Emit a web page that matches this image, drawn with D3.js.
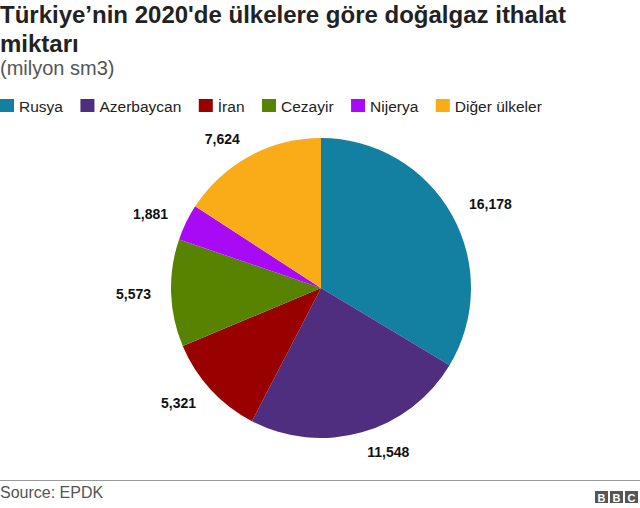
<!DOCTYPE html>
<html>
<head>
<meta charset="utf-8">
<script src="https://cdn.jsdelivr.net/npm/d3@7"></script>
<style>
  html, body { margin: 0; padding: 0; background: #fff; }
  svg { display: block; font-family: "Liberation Sans", Arial, Helvetica, sans-serif; }
</style>
</head>
<body>
<svg id="chart" width="640" height="508"></svg>
<script>
const categories = ["Rusya", "Azerbaycan", "İran", "Cezayir", "Nijerya", "Diğer ülkeler"];
const values = [16178, 11548, 5321, 5573, 1881, 7624];
const colors = ["#1380A1", "#4F2D7F", "#990000", "#588300", "#A90AF5", "#FAAB18"];
const titleLines = ["Türkiye’nin 2020'de ülkelere göre doğalgaz ithalat", "miktarı"];
const subtitle = "(milyon sm3)";
const source = "Source: EPDK";

const svg = d3.select("#chart");
const W = 640;

// Title
svg.selectAll("text.title").data(titleLines).join("text")
  .attr("class", "title")
  .attr("x", 0)
  .attr("y", (d, i) => 23 + i * 28.5)
  .attr("font-size", 24)
  .attr("font-weight", "bold")
  .attr("fill", "#222")
  .text(d => d);

svg.append("text")
  .attr("x", 0).attr("y", 75)
  .attr("font-size", 20)
  .attr("fill", "#555")
  .text(subtitle);

// Legend
const legend = svg.append("g");
let lx = 0;
categories.forEach((c, i) => {
  const g = legend.append("g").attr("transform", `translate(${lx},0)`);
  g.append("rect").attr("x", 0).attr("y", 99).attr("width", 14).attr("height", 13).attr("fill", colors[i]);
  const t = g.append("text").attr("x", 19).attr("y", 111.5)
    .attr("font-size", 15.5).attr("fill", "#222").text(c);
  const w = t.node().getComputedTextLength();
  lx += 19 + w + 17.5;
});

// Pie
const cx = 321, cy = 288, r = 150;
const pie = d3.pie().sort(null).value(d => d.value);
const data = categories.map((c, i) => ({ name: c, value: values[i], color: colors[i] }));
const arcs = pie(data);
const arc = d3.arc().innerRadius(0).outerRadius(r);
const g = svg.append("g").attr("transform", `translate(${cx},${cy})`);
g.selectAll("path").data(arcs).join("path")
  .attr("d", arc)
  .attr("fill", d => d.data.color);

const fmt = d3.format(",");
const lr = 170;
g.selectAll("text.lbl").data(arcs).join("text")
  .attr("class", "lbl")
  .attr("x", d => { const a = (d.startAngle + d.endAngle) / 2; return lr * Math.sin(a); })
  .attr("y", d => { const a = (d.startAngle + d.endAngle) / 2; return -lr * Math.cos(a) + 5; })
  .attr("text-anchor", d => { const a = (d.startAngle + d.endAngle) / 2; return a < Math.PI ? "start" : "end"; })
  .attr("font-size", 14)
  .attr("font-weight", "bold")
  .attr("fill", "#111")
  .text(d => fmt(d.data.value));

// Footer
svg.append("line").attr("x1", 0).attr("x2", W).attr("y1", 480.5).attr("y2", 480.5)
  .attr("stroke", "#999").attr("stroke-width", 1);
svg.append("text").attr("x", 0).attr("y", 498)
  .attr("font-size", 16).attr("fill", "#555").text(source);

const logo = svg.append("g").attr("transform", "translate(595,491)");
["B", "B", "C"].forEach((ch, i) => {
  logo.append("rect").attr("x", i * 15).attr("y", 0).attr("width", 13).attr("height", 12).attr("fill", "#555");
  logo.append("text").attr("x", i * 15 + 6.5).attr("y", 10.5).attr("text-anchor", "middle")
    .attr("font-size", 11).attr("font-weight", "bold").attr("fill", "#fff").text(ch);
});
</script>
</body>
</html>
